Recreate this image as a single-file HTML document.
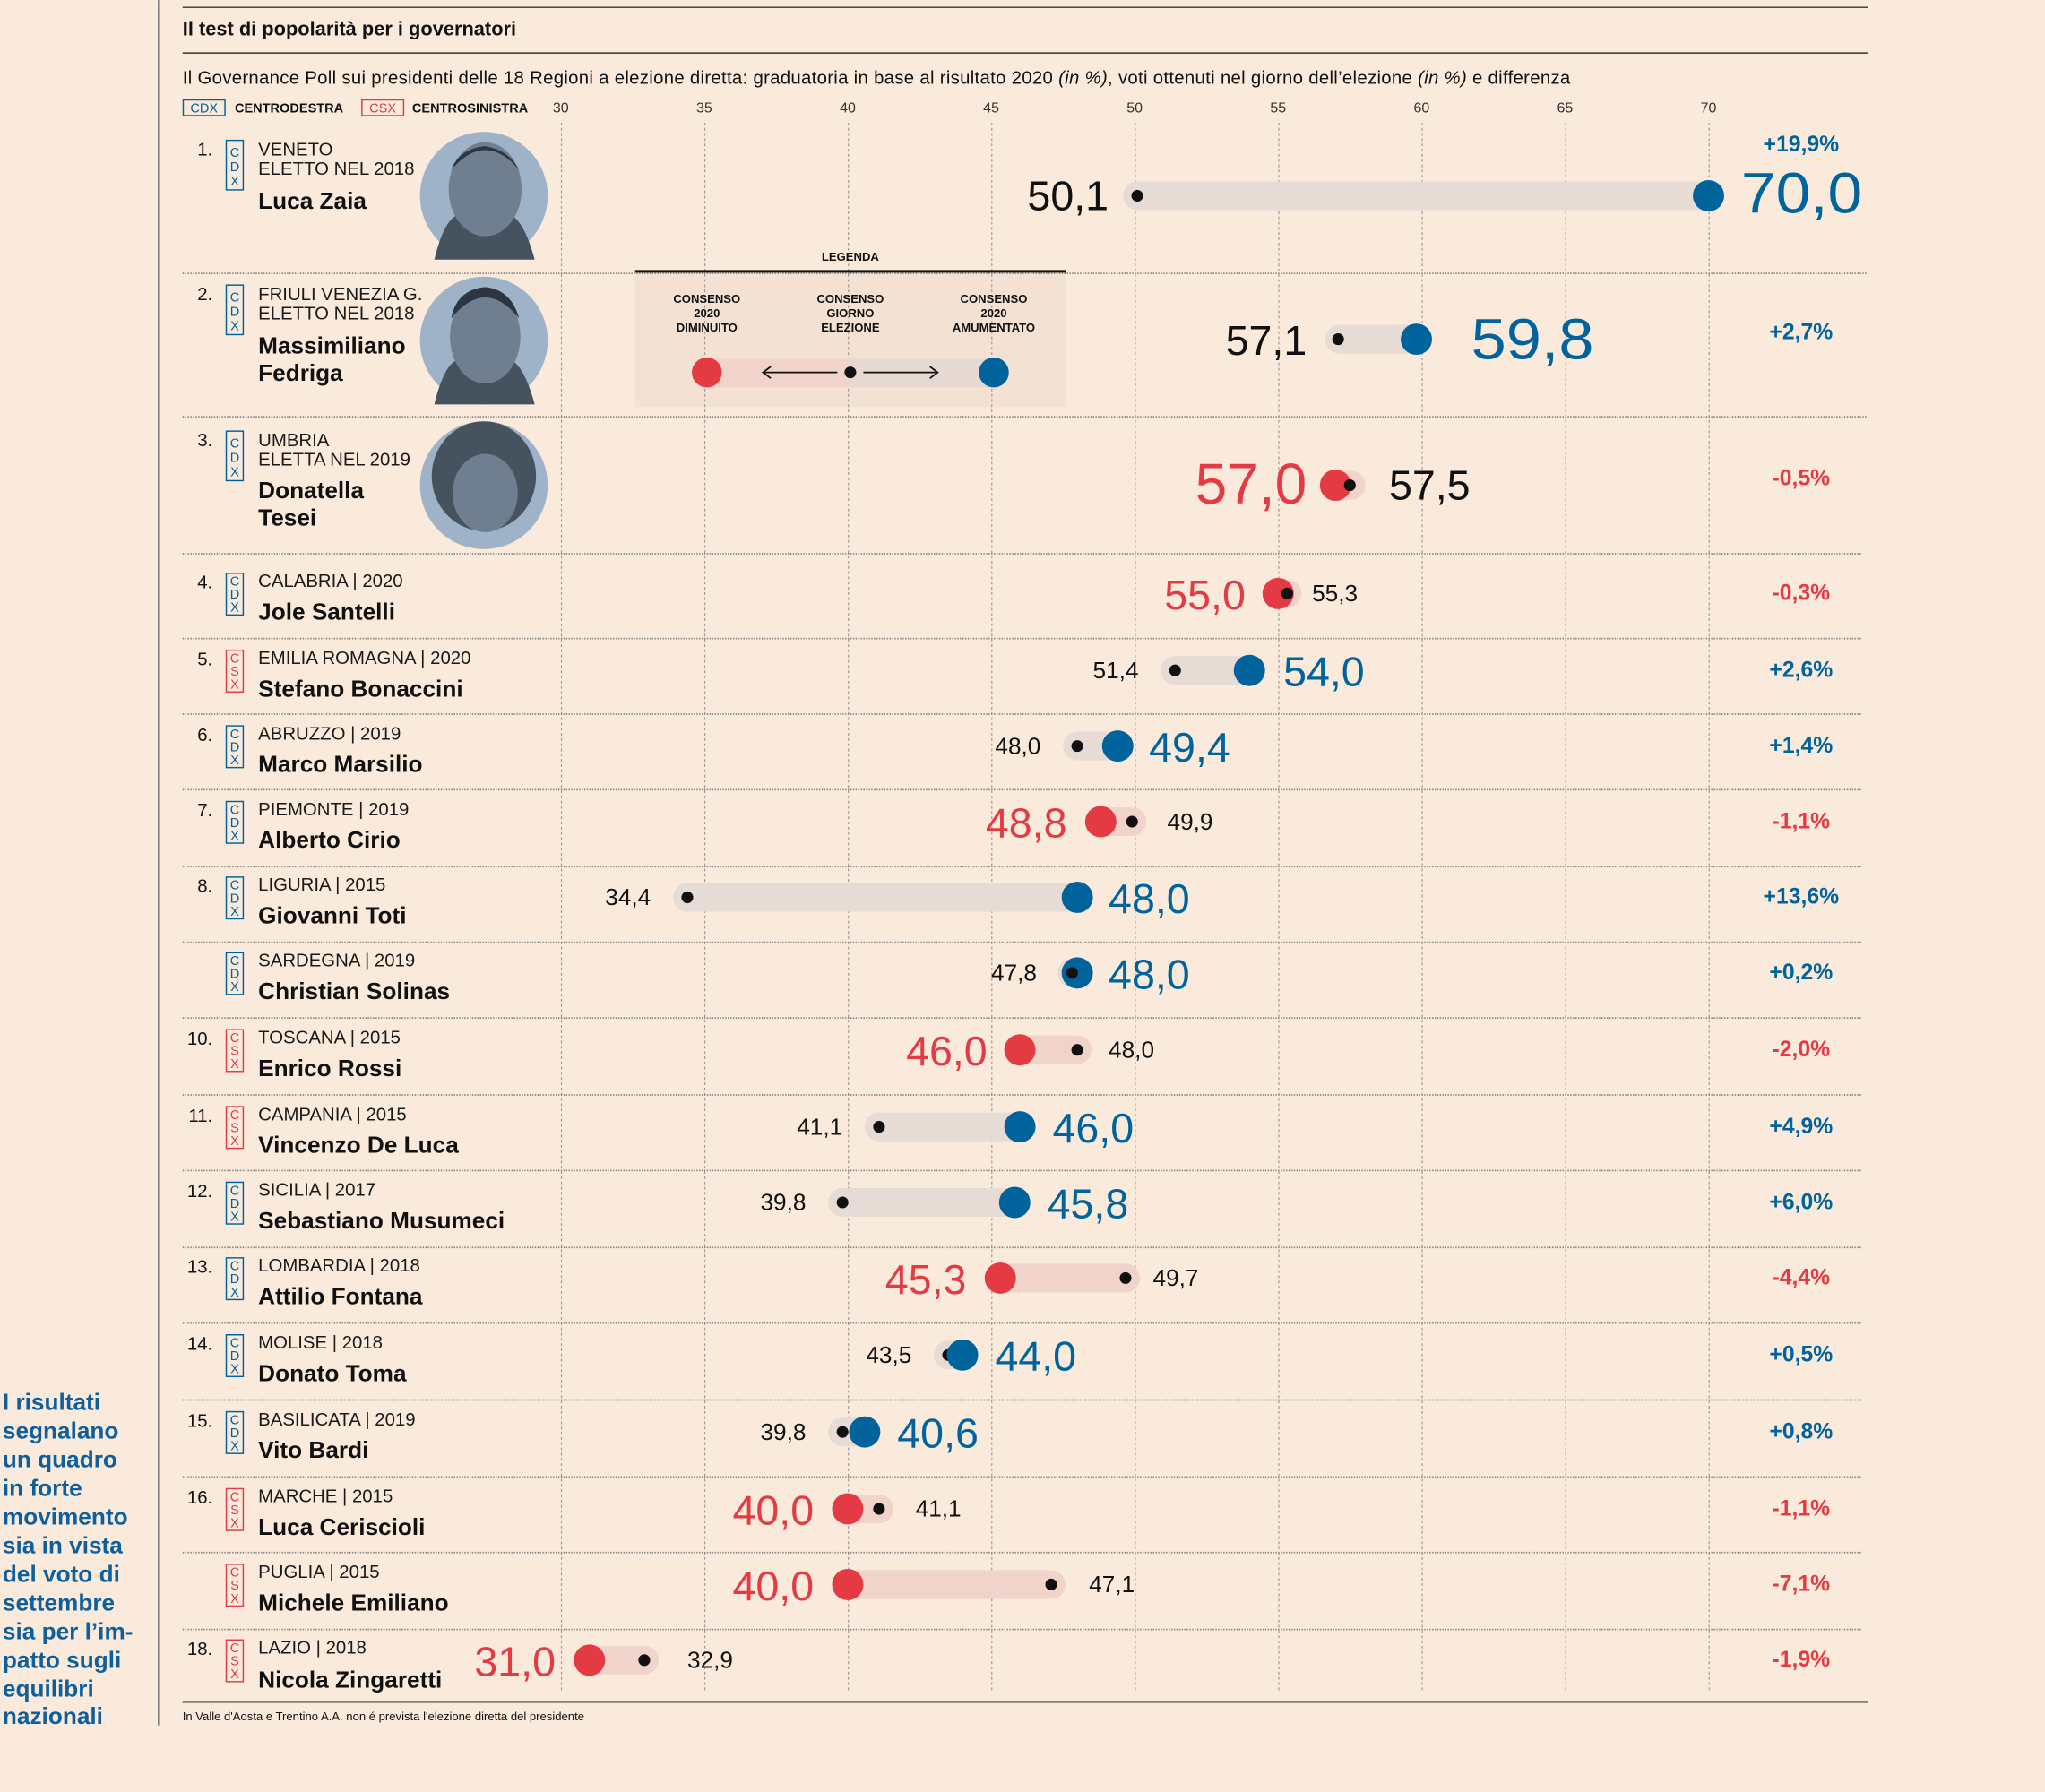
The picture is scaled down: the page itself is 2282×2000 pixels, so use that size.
<!DOCTYPE html>
<html><head><meta charset="utf-8"><style>
html,body{margin:0;padding:0;background:#f9eadb;}
svg{display:block;font-family:"Liberation Sans",sans-serif;}
.rg{font-size:14px;fill:#1a1a1a}
.nm{font-size:18px;font-weight:bold;fill:#111}
.nu{font-size:14px;fill:#111;text-anchor:end}
.bx{font-size:10px;text-anchor:middle}
.bl{fill:#00639c}.rd{fill:#e33a44}.bk{fill:#111}
.df{font-size:17px;font-weight:bold;text-anchor:middle}
.ax{font-size:11px;fill:#333;text-anchor:middle}
</style></head><body>
<svg width="2282" height="2000" viewBox="0 0 1568 1374" xmlns="http://www.w3.org/2000/svg">
<rect width="1568" height="1374" fill="#f9eadb"/>
<line x1="121.5" y1="0" x2="121.5" y2="1323" stroke="#777" stroke-width="1"/>
<g font-size="18" font-weight="bold" fill="#0f5f9a">
<text x="2" y="1081">I risultati</text><text x="2" y="1103">segnalano</text><text x="2" y="1125">un quadro</text><text x="2" y="1147">in forte</text><text x="2" y="1169">movimento</text><text x="2" y="1191">sia in vista</text><text x="2" y="1213">del voto di</text><text x="2" y="1235">settembre</text><text x="2" y="1257">sia per l’im-</text><text x="2" y="1279">patto sugli</text><text x="2" y="1301">equilibri</text><text x="2" y="1322">nazionali</text>
</g>
<line x1="140" y1="5.5" x2="1432" y2="5.5" stroke="#333" stroke-width="1"/>
<text x="140" y="27" font-size="15" font-weight="bold" fill="#111">Il test di popolarità per i governatori</text>
<line x1="140" y1="40.5" x2="1432" y2="40.5" stroke="#333" stroke-width="1"/>
<text x="140" y="64" font-size="14" fill="#111" textLength="1064" lengthAdjust="spacing">Il Governance Poll sui presidenti delle 18 Regioni a elezione diretta: graduatoria in base al risultato 2020 <tspan font-style="italic">(in %)</tspan>, voti ottenuti nel giorno dell’elezione <tspan font-style="italic">(in %)</tspan> e differenza</text>
<rect x="140.5" y="76.5" width="32" height="12" fill="none" stroke="#00639c"/>
<text x="156.5" y="86" font-size="10" class="bl" text-anchor="middle">CDX</text>
<text x="180" y="86" font-size="10" font-weight="bold" fill="#111">CENTRODESTRA</text>
<rect x="277.5" y="76.5" width="32" height="12" fill="none" stroke="#e33a44"/>
<text x="293.5" y="86" font-size="10" class="rd" text-anchor="middle">CSX</text>
<text x="316" y="86" font-size="10" font-weight="bold" fill="#111">CENTROSINISTRA</text>
<text x="430" y="86" class="ax">30</text><text x="540" y="86" class="ax">35</text><text x="650" y="86" class="ax">40</text><text x="760" y="86" class="ax">45</text><text x="870" y="86" class="ax">50</text><text x="980" y="86" class="ax">55</text><text x="1090" y="86" class="ax">60</text><text x="1200" y="86" class="ax">65</text><text x="1310" y="86" class="ax">70</text>
<rect x="487" y="208" width="330" height="104" fill="#f3e2d4"/>
<g stroke="#999" stroke-width="0.8" stroke-dasharray="2,2">
<line x1="430.5" y1="94" x2="430.5" y2="1298"/><line x1="540.5" y1="94" x2="540.5" y2="1298"/><line x1="650.5" y1="94" x2="650.5" y2="1298"/><line x1="760.5" y1="94" x2="760.5" y2="1298"/><line x1="870.5" y1="94" x2="870.5" y2="1298"/><line x1="980.5" y1="94" x2="980.5" y2="1298"/><line x1="1090.5" y1="94" x2="1090.5" y2="1298"/><line x1="1200.5" y1="94" x2="1200.5" y2="1298"/><line x1="1310.5" y1="94" x2="1310.5" y2="1298"/>
</g>
<g stroke="#888" stroke-width="1.2" stroke-dasharray="1,1">
<line x1="140" y1="209.5" x2="1432" y2="209.5"/><line x1="140" y1="319.5" x2="1432" y2="319.5"/><line x1="140" y1="424.5" x2="1428" y2="424.5"/><line x1="140" y1="489.5" x2="1428" y2="489.5"/><line x1="140" y1="547.5" x2="1428" y2="547.5"/><line x1="140" y1="605.5" x2="1428" y2="605.5"/><line x1="140" y1="664.5" x2="1428" y2="664.5"/><line x1="140" y1="722.5" x2="1428" y2="722.5"/><line x1="140" y1="780.5" x2="1428" y2="780.5"/><line x1="140" y1="839.5" x2="1428" y2="839.5"/><line x1="140" y1="897.5" x2="1428" y2="897.5"/><line x1="140" y1="956.5" x2="1428" y2="956.5"/><line x1="140" y1="1014.5" x2="1428" y2="1014.5"/><line x1="140" y1="1073.5" x2="1428" y2="1073.5"/><line x1="140" y1="1132.5" x2="1428" y2="1132.5"/><line x1="140" y1="1190.5" x2="1428" y2="1190.5"/><line x1="140" y1="1249.5" x2="1428" y2="1249.5"/>
</g>
<line x1="487" y1="208" x2="817" y2="208" stroke="#111" stroke-width="2"/>
<text x="652" y="200" font-size="9" font-weight="bold" text-anchor="middle" fill="#111">LEGENDA</text>
<g font-size="9" font-weight="bold" text-anchor="middle" fill="#111">
<text x="542" y="232">CONSENSO</text><text x="542" y="243">2020</text><text x="542" y="254">DIMINUITO</text>
<text x="652" y="232">CONSENSO</text><text x="652" y="243">GIORNO</text><text x="652" y="254">ELEZIONE</text>
<text x="762" y="232">CONSENSO</text><text x="762" y="243">2020</text><text x="762" y="254">AMUMENTATO</text>
</g>
<rect x="542" y="274" width="110" height="23" fill="#f0d3cb"/><rect x="652" y="274" width="110" height="23" fill="#e5d9d2"/>
<circle cx="542" cy="285.5" r="11.5" fill="#e33a44"/><circle cx="762" cy="285.5" r="11.5" fill="#00639c"/><circle cx="652" cy="285.5" r="4.5" fill="#111"/>
<g stroke="#111" stroke-width="1.2" fill="none"><path d="M642 285.5H585M591 281l-6 4.5 6 4.5"/><path d="M662 285.5H719M713 281l6 4.5-6 4.5"/></g>

<g fill="#9fb3c8"><circle cx="371" cy="150" r="49"/><circle cx="371" cy="261" r="49"/><circle cx="371" cy="372" r="49"/></g>
<g fill="#46535f"><path d="M333 199 Q340 170 350 165 L392 165 Q402 170 410 199 Z"/><path d="M333 310 Q340 281 350 276 L392 276 Q402 281 410 310 Z"/><ellipse cx="371" cy="365" rx="40" ry="42"/></g>
<g fill="#6f7f90"><ellipse cx="372" cy="145" rx="28" ry="36"/><ellipse cx="372" cy="258" rx="27" ry="36"/><ellipse cx="372" cy="378" rx="25" ry="30"/></g>
<g fill="#2c3540"><path d="M346 130 Q372 100 398 130 Q390 115 372 112 Q352 114 346 130Z"/><path d="M346 244 Q372 212 398 244 Q392 222 372 220 Q350 222 346 244Z"/></g>

<g>
<text x="163" y="119" class="nu">1.</text>
<rect x="173.5" y="107.5" width="13" height="38" fill="none" stroke="#00639c"/>
<text x="180" y="120" class="bx bl">C</text><text x="180" y="131" class="bx bl">D</text><text x="180" y="142" class="bx bl">X</text>
<text x="198" y="119" class="rg">VENETO</text><text x="198" y="134" class="rg">ELETTO NEL 2018</text><text x="198" y="160" class="nm">Luca Zaia</text>

<text x="163" y="230" class="nu">2.</text>
<rect x="173.5" y="218.5" width="13" height="38" fill="none" stroke="#00639c"/>
<text x="180" y="231" class="bx bl">C</text><text x="180" y="242" class="bx bl">D</text><text x="180" y="253" class="bx bl">X</text>
<text x="198" y="230" class="rg">FRIULI VENEZIA G.</text><text x="198" y="245" class="rg">ELETTO NEL 2018</text><text x="198" y="271" class="nm">Massimiliano</text><text x="198" y="292" class="nm">Fedriga</text>

<text x="163" y="342" class="nu">3.</text>
<rect x="173.5" y="330.5" width="13" height="38" fill="none" stroke="#00639c"/>
<text x="180" y="343" class="bx bl">C</text><text x="180" y="354" class="bx bl">D</text><text x="180" y="365" class="bx bl">X</text>
<text x="198" y="342" class="rg">UMBRIA</text><text x="198" y="357" class="rg">ELETTA NEL 2019</text><text x="198" y="382" class="nm">Donatella</text><text x="198" y="403" class="nm">Tesei</text>
</g>

<rect x="861" y="139" width="460" height="22" rx="11" fill="#e6dbd5"/><circle cx="872" cy="150" r="4.5" fill="#111"/><circle cx="1310" cy="150" r="12" fill="#00639c"/>
<text x="850" y="161" font-size="32" text-anchor="end" class="bk">50,1</text><text x="1335" y="163" font-size="44" class="bl" textLength="93" lengthAdjust="spacingAndGlyphs">70,0</text>
<text x="1381" y="116" class="df bl">+19,9%</text>
<rect x="1016" y="249" width="81" height="22" rx="11" fill="#e6dbd5"/><circle cx="1026" cy="260" r="4.5" fill="#111"/><circle cx="1086" cy="260" r="12" fill="#00639c"/>
<text x="1002" y="272" font-size="32" text-anchor="end" class="bk">57,1</text><text x="1128" y="275" font-size="44" class="bl" textLength="94" lengthAdjust="spacingAndGlyphs">59,8</text>
<text x="1381" y="260" class="df bl">+2,7%</text>
<rect x="1013" y="361" width="34" height="22" rx="11" fill="#f0d3cb"/><circle cx="1024" cy="372" r="12" fill="#e33a44"/><circle cx="1035" cy="372" r="4.5" fill="#111"/>
<text x="1002" y="386" font-size="44" text-anchor="end" class="rd">57,0</text><text x="1065" y="383" font-size="32" class="bk">57,5</text>
<text x="1381" y="372" class="df rd">-0,5%</text>

<g id="rows">
<text x="163" y="451" class="nu">4.</text><rect x="173.5" y="439.5" width="13" height="32" fill="none" stroke="#00639c"/><text x="180" y="449" class="bx bl">C</text><text x="180" y="459" class="bx bl">D</text><text x="180" y="469" class="bx bl">X</text>
<text x="198" y="450" class="rg">CALABRIA | 2020</text><text x="198" y="475" class="nm">Jole Santelli</text>
<rect x="969" y="444" width="29" height="22" rx="11" fill="#f0d3cb"/><circle cx="980" cy="455" r="12" fill="#e33a44"/><circle cx="987" cy="455" r="4.5" fill="#111"/>
<text x="955" y="467" font-size="32" text-anchor="end" class="rd">55,0</text><text x="1006" y="461" font-size="18" class="bk">55,3</text>
<text x="1381" y="460" class="df rd">-0,3%</text>
<text x="163" y="510" class="nu">5.</text><rect x="173.5" y="498.5" width="13" height="32" fill="none" stroke="#e33a44"/><text x="180" y="508" class="bx rd">C</text><text x="180" y="518" class="bx rd">S</text><text x="180" y="528" class="bx rd">X</text>
<text x="198" y="509" class="rg">EMILIA ROMAGNA | 2020</text><text x="198" y="534" class="nm">Stefano Bonaccini</text>
<rect x="890" y="503" width="79" height="22" rx="11" fill="#e6dbd5"/><circle cx="901" cy="514" r="4.5" fill="#111"/><circle cx="958" cy="514" r="12" fill="#00639c"/>
<text x="873" y="520" font-size="18" text-anchor="end" class="bk">51,4</text><text x="984" y="526" font-size="32" class="bl">54,0</text>
<text x="1381" y="519" class="df bl">+2,6%</text>
<text x="163" y="568" class="nu">6.</text><rect x="173.5" y="556.5" width="13" height="32" fill="none" stroke="#00639c"/><text x="180" y="566" class="bx bl">C</text><text x="180" y="576" class="bx bl">D</text><text x="180" y="586" class="bx bl">X</text>
<text x="198" y="567" class="rg">ABRUZZO | 2019</text><text x="198" y="592" class="nm">Marco Marsilio</text>
<rect x="815" y="561" width="53" height="22" rx="11" fill="#e6dbd5"/><circle cx="826" cy="572" r="4.5" fill="#111"/><circle cx="857" cy="572" r="12" fill="#00639c"/>
<text x="798" y="578" font-size="18" text-anchor="end" class="bk">48,0</text><text x="881" y="584" font-size="32" class="bl">49,4</text>
<text x="1381" y="577" class="df bl">+1,4%</text>
<text x="163" y="626" class="nu">7.</text><rect x="173.5" y="614.5" width="13" height="32" fill="none" stroke="#00639c"/><text x="180" y="624" class="bx bl">C</text><text x="180" y="634" class="bx bl">D</text><text x="180" y="644" class="bx bl">X</text>
<text x="198" y="625" class="rg">PIEMONTE | 2019</text><text x="198" y="650" class="nm">Alberto Cirio</text>
<rect x="832" y="619" width="47" height="22" rx="11" fill="#f0d3cb"/><circle cx="844" cy="630" r="12" fill="#e33a44"/><circle cx="868" cy="630" r="4.5" fill="#111"/>
<text x="818" y="642" font-size="32" text-anchor="end" class="rd">48,8</text><text x="895" y="636" font-size="18" class="bk">49,9</text>
<text x="1381" y="635" class="df rd">-1,1%</text>
<text x="163" y="684" class="nu">8.</text><rect x="173.5" y="672.5" width="13" height="32" fill="none" stroke="#00639c"/><text x="180" y="682" class="bx bl">C</text><text x="180" y="692" class="bx bl">D</text><text x="180" y="702" class="bx bl">X</text>
<text x="198" y="683" class="rg">LIGURIA | 2015</text><text x="198" y="708" class="nm">Giovanni Toti</text>
<rect x="516" y="677" width="321" height="22" rx="11" fill="#e6dbd5"/><circle cx="527" cy="688" r="4.5" fill="#111"/><circle cx="826" cy="688" r="12" fill="#00639c"/>
<text x="499" y="694" font-size="18" text-anchor="end" class="bk">34,4</text><text x="850" y="700" font-size="32" class="bl">48,0</text>
<text x="1381" y="693" class="df bl">+13,6%</text>
<rect x="173.5" y="730.5" width="13" height="32" fill="none" stroke="#00639c"/><text x="180" y="740" class="bx bl">C</text><text x="180" y="750" class="bx bl">D</text><text x="180" y="760" class="bx bl">X</text>
<text x="198" y="741" class="rg">SARDEGNA | 2019</text><text x="198" y="766" class="nm">Christian Solinas</text>
<rect x="811" y="735" width="26" height="22" rx="11" fill="#e6dbd5"/><circle cx="826" cy="746" r="12" fill="#00639c"/><circle cx="822" cy="746" r="4.5" fill="#111"/>
<text x="795" y="752" font-size="18" text-anchor="end" class="bk">47,8</text><text x="850" y="758" font-size="32" class="bl">48,0</text>
<text x="1381" y="751" class="df bl">+0,2%</text>
<text x="163" y="801" class="nu">10.</text><rect x="173.5" y="789.5" width="13" height="32" fill="none" stroke="#e33a44"/><text x="180" y="799" class="bx rd">C</text><text x="180" y="809" class="bx rd">S</text><text x="180" y="819" class="bx rd">X</text>
<text x="198" y="800" class="rg">TOSCANA | 2015</text><text x="198" y="825" class="nm">Enrico Rossi</text>
<rect x="770" y="794" width="67" height="22" rx="11" fill="#f0d3cb"/><circle cx="782" cy="805" r="12" fill="#e33a44"/><circle cx="826" cy="805" r="4.5" fill="#111"/>
<text x="757" y="817" font-size="32" text-anchor="end" class="rd">46,0</text><text x="850" y="811" font-size="18" class="bk">48,0</text>
<text x="1381" y="810" class="df rd">-2,0%</text>
<text x="163" y="860" class="nu">11.</text><rect x="173.5" y="848.5" width="13" height="32" fill="none" stroke="#e33a44"/><text x="180" y="858" class="bx rd">C</text><text x="180" y="868" class="bx rd">S</text><text x="180" y="878" class="bx rd">X</text>
<text x="198" y="859" class="rg">CAMPANIA | 2015</text><text x="198" y="884" class="nm">Vincenzo De Luca</text>
<rect x="663" y="853" width="130" height="22" rx="11" fill="#e6dbd5"/><circle cx="674" cy="864" r="4.5" fill="#111"/><circle cx="782" cy="864" r="12" fill="#00639c"/>
<text x="646" y="870" font-size="18" text-anchor="end" class="bk">41,1</text><text x="807" y="876" font-size="32" class="bl">46,0</text>
<text x="1381" y="869" class="df bl">+4,9%</text>
<text x="163" y="918" class="nu">12.</text><rect x="173.5" y="906.5" width="13" height="32" fill="none" stroke="#00639c"/><text x="180" y="916" class="bx bl">C</text><text x="180" y="926" class="bx bl">D</text><text x="180" y="936" class="bx bl">X</text>
<text x="198" y="917" class="rg">SICILIA | 2017</text><text x="198" y="942" class="nm">Sebastiano Musumeci</text>
<rect x="635" y="911" width="154" height="22" rx="11" fill="#e6dbd5"/><circle cx="646" cy="922" r="4.5" fill="#111"/><circle cx="778" cy="922" r="12" fill="#00639c"/>
<text x="618" y="928" font-size="18" text-anchor="end" class="bk">39,8</text><text x="803" y="934" font-size="32" class="bl">45,8</text>
<text x="1381" y="927" class="df bl">+6,0%</text>
<text x="163" y="976" class="nu">13.</text><rect x="173.5" y="964.5" width="13" height="32" fill="none" stroke="#00639c"/><text x="180" y="974" class="bx bl">C</text><text x="180" y="984" class="bx bl">D</text><text x="180" y="994" class="bx bl">X</text>
<text x="198" y="975" class="rg">LOMBARDIA | 2018</text><text x="198" y="1000" class="nm">Attilio Fontana</text>
<rect x="755" y="969" width="119" height="22" rx="11" fill="#f0d3cb"/><circle cx="767" cy="980" r="12" fill="#e33a44"/><circle cx="863" cy="980" r="4.5" fill="#111"/>
<text x="741" y="992" font-size="32" text-anchor="end" class="rd">45,3</text><text x="884" y="986" font-size="18" class="bk">49,7</text>
<text x="1381" y="985" class="df rd">-4,4%</text>
<text x="163" y="1035" class="nu">14.</text><rect x="173.5" y="1023.5" width="13" height="32" fill="none" stroke="#00639c"/><text x="180" y="1033" class="bx bl">C</text><text x="180" y="1043" class="bx bl">D</text><text x="180" y="1053" class="bx bl">X</text>
<text x="198" y="1034" class="rg">MOLISE | 2018</text><text x="198" y="1059" class="nm">Donato Toma</text>
<rect x="716" y="1028" width="33" height="22" rx="11" fill="#e6dbd5"/><circle cx="727" cy="1039" r="4.5" fill="#111"/><circle cx="738" cy="1039" r="12" fill="#00639c"/>
<text x="699" y="1045" font-size="18" text-anchor="end" class="bk">43,5</text><text x="763" y="1051" font-size="32" class="bl">44,0</text>
<text x="1381" y="1044" class="df bl">+0,5%</text>
<text x="163" y="1094" class="nu">15.</text><rect x="173.5" y="1082.5" width="13" height="32" fill="none" stroke="#00639c"/><text x="180" y="1092" class="bx bl">C</text><text x="180" y="1102" class="bx bl">D</text><text x="180" y="1112" class="bx bl">X</text>
<text x="198" y="1093" class="rg">BASILICATA | 2019</text><text x="198" y="1118" class="nm">Vito Bardi</text>
<rect x="635" y="1087" width="39" height="22" rx="11" fill="#e6dbd5"/><circle cx="646" cy="1098" r="4.5" fill="#111"/><circle cx="663" cy="1098" r="12" fill="#00639c"/>
<text x="618" y="1104" font-size="18" text-anchor="end" class="bk">39,8</text><text x="688" y="1110" font-size="32" class="bl">40,6</text>
<text x="1381" y="1103" class="df bl">+0,8%</text>
<text x="163" y="1153" class="nu">16.</text><rect x="173.5" y="1141.5" width="13" height="32" fill="none" stroke="#e33a44"/><text x="180" y="1151" class="bx rd">C</text><text x="180" y="1161" class="bx rd">S</text><text x="180" y="1171" class="bx rd">X</text>
<text x="198" y="1152" class="rg">MARCHE | 2015</text><text x="198" y="1177" class="nm">Luca Ceriscioli</text>
<rect x="638" y="1146" width="47" height="22" rx="11" fill="#f0d3cb"/><circle cx="650" cy="1157" r="12" fill="#e33a44"/><circle cx="674" cy="1157" r="4.5" fill="#111"/>
<text x="624" y="1169" font-size="32" text-anchor="end" class="rd">40,0</text><text x="702" y="1163" font-size="18" class="bk">41,1</text>
<text x="1381" y="1162" class="df rd">-1,1%</text>
<rect x="173.5" y="1199.5" width="13" height="32" fill="none" stroke="#e33a44"/><text x="180" y="1209" class="bx rd">C</text><text x="180" y="1219" class="bx rd">S</text><text x="180" y="1229" class="bx rd">X</text>
<text x="198" y="1210" class="rg">PUGLIA | 2015</text><text x="198" y="1235" class="nm">Michele Emiliano</text>
<rect x="638" y="1204" width="179" height="22" rx="11" fill="#f0d3cb"/><circle cx="650" cy="1215" r="12" fill="#e33a44"/><circle cx="806" cy="1215" r="4.5" fill="#111"/>
<text x="624" y="1227" font-size="32" text-anchor="end" class="rd">40,0</text><text x="835" y="1221" font-size="18" class="bk">47,1</text>
<text x="1381" y="1220" class="df rd">-7,1%</text>
<text x="163" y="1269" class="nu">18.</text><rect x="173.5" y="1257.5" width="13" height="32" fill="none" stroke="#e33a44"/><text x="180" y="1267" class="bx rd">C</text><text x="180" y="1277" class="bx rd">S</text><text x="180" y="1287" class="bx rd">X</text>
<text x="198" y="1268" class="rg">LAZIO | 2018</text><text x="198" y="1294" class="nm">Nicola Zingaretti</text>
<rect x="440" y="1262" width="65" height="22" rx="11" fill="#f0d3cb"/><circle cx="452" cy="1273" r="12" fill="#e33a44"/><circle cx="494" cy="1273" r="4.5" fill="#111"/>
<text x="426" y="1285" font-size="32" text-anchor="end" class="rd">31,0</text><text x="527" y="1279" font-size="18" class="bk">32,9</text>
<text x="1381" y="1278" class="df rd">-1,9%</text>
</g>
<line x1="140" y1="1305" x2="1432" y2="1305" stroke="#444" stroke-width="1.5"/>
<text x="140" y="1319" font-size="9" fill="#111">In Valle d'Aosta e Trentino A.A. non é prevista l'elezione diretta del presidente</text>
</svg>
</body></html>
